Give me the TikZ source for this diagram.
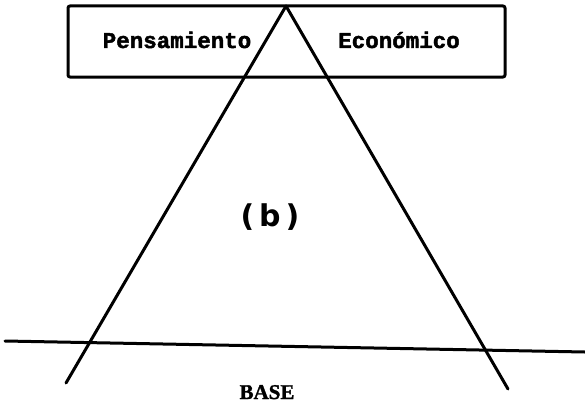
\documentclass[tikz,border=0pt]{standalone}
\usepackage{fontspec}
\setmainfont{Liberation Serif}
\newfontfamily\typefont[FakeBold=2]{Liberation Mono}
\newfontfamily\handfont{DejaVu Sans}
\newfontfamily\basefont[FakeBold=1.5]{Liberation Serif}
\begin{document}
\begin{tikzpicture}[x=1pt,y=-1pt,
  ink/.style={line width=3pt, line cap=round, line join=round},
  boxtext/.style={font=\typefont\bfseries\fontsize{22.5}{22.5}\selectfont, anchor=base, inner sep=0pt},
  basetext/.style={font=\basefont\bfseries\fontsize{21}{21}\selectfont, anchor=base, inner sep=0pt}]
\useasboundingbox (0,0) rectangle (585,404);
% box
\draw[ink, rounded corners=2pt] (68,6) rectangle (505,77);
\node[boxtext] (pens) at (177,48) {Pensamiento};
\node[boxtext] (econ) at (399,48) {Económico};
% triangle
\coordinate (apex) at (286,6);
\coordinate (lend) at (66,383);
\coordinate (rend) at (508,389);
\draw[ink] (lend) -- (apex) -- (rend);
% base line
\coordinate (bl) at (5,341);
\coordinate (br) at (585,352);
\draw[ink] (bl) -- (br);
% labels
\node[font=\handfont\bfseries\fontsize{30}{30}\selectfont, inner sep=0pt] (b) at (270,217) {(\,b\,)};
\node[basetext] (base) at (267,399) {BASE};
\end{tikzpicture}
\end{document}
